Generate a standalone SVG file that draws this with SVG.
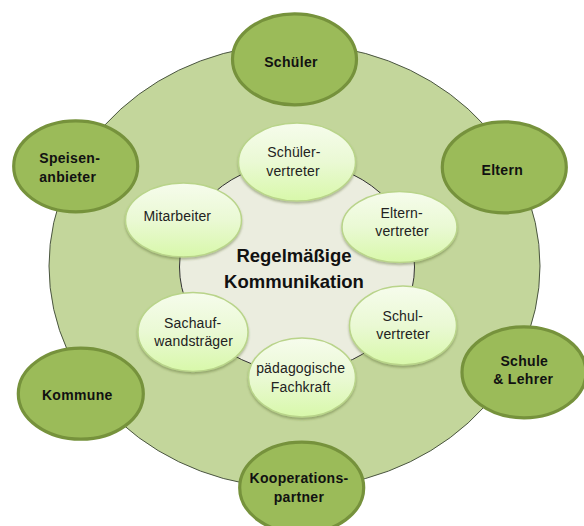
<svg xmlns="http://www.w3.org/2000/svg" width="584" height="526" viewBox="0 0 584 526">
<style>
text{font-family:"Liberation Sans",Arial,sans-serif;text-anchor:middle;fill:#111}
.o{font-size:14px;font-weight:bold;fill:#111;letter-spacing:.32px}
.i{font-size:14px;fill:#222;letter-spacing:.15px}
.c{font-size:18.5px;font-weight:bold}
.oe{fill:#9bbb59;stroke:#76923c;stroke-width:3.2}
.ie{fill:url(#g);stroke:#b9d48a;stroke-width:1.5;filter:url(#s)}
</style>
<defs>
<linearGradient id="g" x1="0" y1="0" x2="0" y2="1"><stop offset="0" stop-color="#f6fcec"/><stop offset=".5" stop-color="#eaf9d4"/><stop offset="1" stop-color="#d8f8aa"/></linearGradient>
<filter id="s" x="-15%" y="-15%" width="130%" height="135%"><feDropShadow dx="0" dy="2" stdDeviation="1.2" flood-color="#4f6228" flood-opacity=".4"/></filter>
</defs>
<rect width="584" height="526" fill="#fff"/>
<g id="rings">
<ellipse cx="294.5" cy="266" rx="245.5" ry="222" fill="#c3d69b" stroke="#4a5540" stroke-width="1"/>
<ellipse cx="297" cy="267" rx="117.5" ry="105" fill="#ebeddf" stroke="#333" stroke-width="1"/>
</g>
<g id="center"><text class="c" x="294" y="261.5">Regelmäßige</text><text class="c" x="294" y="287.5">Kommunikation</text></g>
<g id="schueler"><ellipse class="oe" cx="294.5" cy="59.3" rx="62" ry="45.5"/><text class="o" x="291" y="66.7">Schüler</text></g>
<g id="eltern"><ellipse class="oe" cx="504.3" cy="167.3" rx="62" ry="45.5"/><text class="o" x="502.3" y="175">Eltern</text></g>
<g id="speisenanbieter"><ellipse class="oe" cx="75.7" cy="166.3" rx="62" ry="45.5"/><text class="o" x="69.7" y="163.3">Speisen-</text><text class="o" x="67.7" y="181.7">anbieter</text></g>
<g id="kommune"><ellipse class="oe" cx="80.8" cy="393.7" rx="62.5" ry="45.5"/><text class="o" x="77.3" y="400">Kommune</text></g>
<g id="schule-lehrer"><ellipse class="oe" cx="524" cy="372.3" rx="62" ry="45.5"/><text class="o" x="524.3" y="365.7">Schule</text><text class="o" x="523.3" y="384.3">&amp; Lehrer</text></g>
<g id="kooperationspartner"><ellipse class="oe" cx="301.7" cy="487.7" rx="62" ry="45.5"/><text class="o" x="299" y="483.3">Kooperations-</text><text class="o" x="299" y="501.7">partner</text></g>
<g id="schuelervertreter"><ellipse class="ie" cx="297" cy="162" rx="58.5" ry="39"/><text class="i" x="294" y="157.3">Schüler-</text><text class="i" x="293" y="175.7">vertreter</text></g>
<g id="elternvertreter"><ellipse class="ie" cx="399.5" cy="227" rx="57.5" ry="35.5"/><text class="i" x="401.7" y="217.7">Eltern-</text><text class="i" x="402" y="236">vertreter</text></g>
<g id="mitarbeiter"><ellipse class="ie" cx="183.5" cy="220" rx="58" ry="37"/><text class="i" x="177.3" y="221">Mitarbeiter</text></g>
<g id="schulvertreter"><ellipse class="ie" cx="403" cy="325.5" rx="53.5" ry="39.5"/><text class="i" x="402.7" y="320.7">Schul-</text><text class="i" x="403" y="339">vertreter</text></g>
<g id="sachaufwandstraeger"><ellipse class="ie" cx="193" cy="332" rx="55" ry="39.5"/><text class="i" x="192.7" y="328">Sachauf-</text><text class="i" x="193.7" y="346">wandsträger</text></g>
<g id="fachkraft"><ellipse class="ie" cx="302" cy="377.5" rx="53.5" ry="39.5"/><text class="i" x="300.7" y="373">pädagogische</text><text class="i" x="300.7" y="391.7">Fachkraft</text></g>
</svg>
